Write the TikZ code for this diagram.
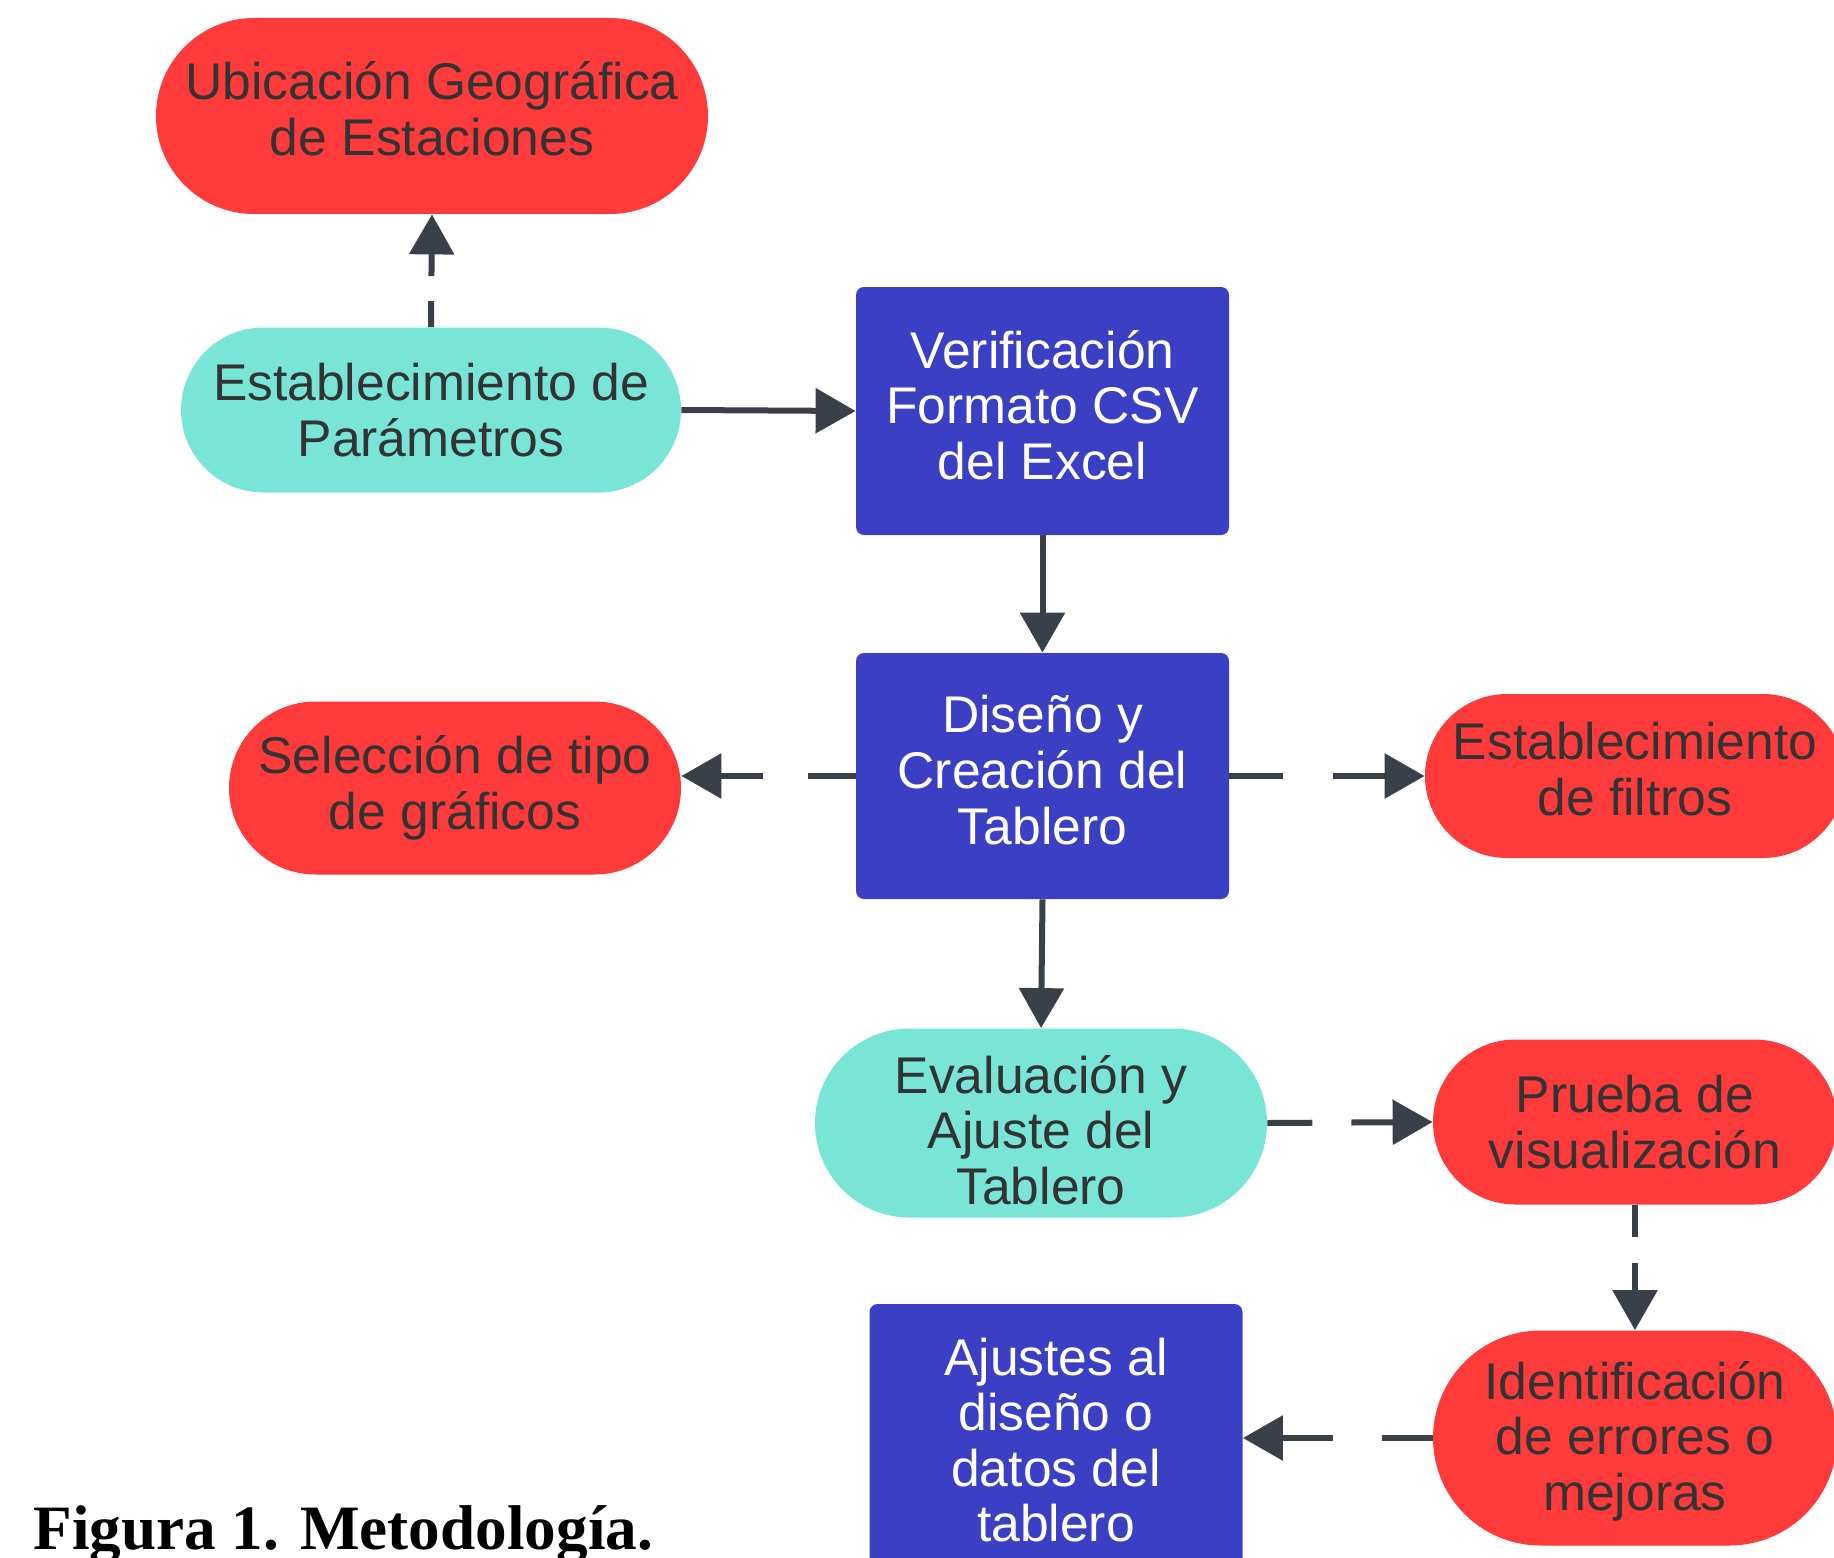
\documentclass[tikz,border=0pt]{standalone}
\usepackage{fontspec}
\setmainfont{Liberation Sans}
\newfontfamily\capfont{Liberation Serif}
\usetikzlibrary{arrows.meta,shapes.misc}
\definecolor{cred}{RGB}{255,58,58}
\definecolor{ccyan}{RGB}{121,229,215}
\definecolor{cblue}{RGB}{59,63,195}
\definecolor{cline}{RGB}{58,64,74}
\definecolor{ctext}{RGB}{51,51,51}
\begin{document}
\begin{tikzpicture}[x=0.5pt,y=-0.5pt,
  base/.style={inner sep=0pt, draw=none},
  txt/.style={align=center, font=\fontsize{25.8pt}{27.8pt}\selectfont, inner sep=0pt, text=ctext},
  wtxt/.style={txt, text=white},
  redpill/.style={base, rounded rectangle, fill=cred},
  cyanpill/.style={base, rounded rectangle, fill=ccyan},
  bluebox/.style={base, rectangle, rounded corners=4pt, fill=cblue},
  conn/.style={draw=cline, line width=3pt, -{Triangle[length=20pt,width=22pt]}},
  dashconn/.style={conn, dash pattern=#1},
]
\useasboundingbox (0,0) rectangle (1834,1557);
\clip (0,0) rectangle (1834,1557);

\node[redpill, minimum width=276pt, minimum height=98pt] (ubi) at (432,116) {};
\node[txt, yshift=3.5pt] (ubit) at (ubi) {Ubicación Geográfica\\de Estaciones};
\node[cyanpill, minimum width=250pt, minimum height=82.5pt] (par) at (431,410) {};
\node[txt] (part) at (par) {Establecimiento de\\Parámetros};
\node[bluebox, minimum width=186.5pt, minimum height=124pt] (ver) at (1042.5,411) {};
\node[wtxt, yshift=3pt] (vert) at (ver) {Verificación\\Formato CSV\\del Excel};
\node[bluebox, minimum width=186.5pt, minimum height=123pt] (dis) at (1042.5,776) {};
\node[wtxt, yshift=3pt] (dist) at (dis) {Diseño y\\Creación del\\Tablero};
\node[redpill, minimum width=226pt, minimum height=86.5pt] (sel) at (455,788) {};
\node[txt] (selt) at (sel) {Selección de tipo\\de gráficos};
\node[redpill, minimum width=210pt, minimum height=82pt] (fil) at (1635,776) {};
\node[txt, yshift=3.5pt] (filt) at (fil) {Establecimiento\\de filtros};
\node[cyanpill, minimum width=226pt, minimum height=94.5pt] (eva) at (1041,1123) {};
\node[txt, yshift=-3.5pt] (evat) at (eva) {Evaluación y\\Ajuste del\\Tablero};
\node[redpill, minimum width=202pt, minimum height=82.5pt] (pru) at (1635,1122) {};
\node[txt] (prut) at (pru) {Prueba de\\visualización};
\node[redpill, minimum width=202pt, minimum height=107.5pt] (ide) at (1635,1438) {};
\node[txt, yshift=-1.5pt] (idet) at (ide) {Identificación\\de errores o\\mejoras};
\node[bluebox, minimum width=186.5pt, minimum height=136pt] (aju) at (1056,1440) {};
\node[wtxt] (ajut) at (aju) {Ajustes al\\diseño o\\datos del\\tablero};

\node[anchor=base west, inner sep=0pt, font=\capfont\bfseries\fontsize{31.6pt}{36pt}\selectfont] (cap) at (33,1549) {Figura 1. Metodología.};

\draw[dashconn={on 13pt off 12.5pt}] (par.north) -- (ubi.south);
\draw[conn] (par.east) -- (ver.west);
\draw[conn] (ver.south) -- (dis.north);
\draw[dashconn={on 24pt off 22.5pt}] (dis.west) -- (dis.west -| sel.east);
\draw[dashconn={on 27pt off 25pt}] (dis.east) -- (fil.west);
\draw[conn] (dis.south) -- (eva.north);
\draw[dashconn={on 22.5pt off 19.5pt}] (eva.east) -- (pru.west);
\draw[dashconn={on 16pt off 13pt}] (pru.south) -- (ide.north);
\draw[dashconn={on 25.5pt off 24.5pt}] (ide.west) -- (ide.west -| aju.east);
\end{tikzpicture}
\end{document}
